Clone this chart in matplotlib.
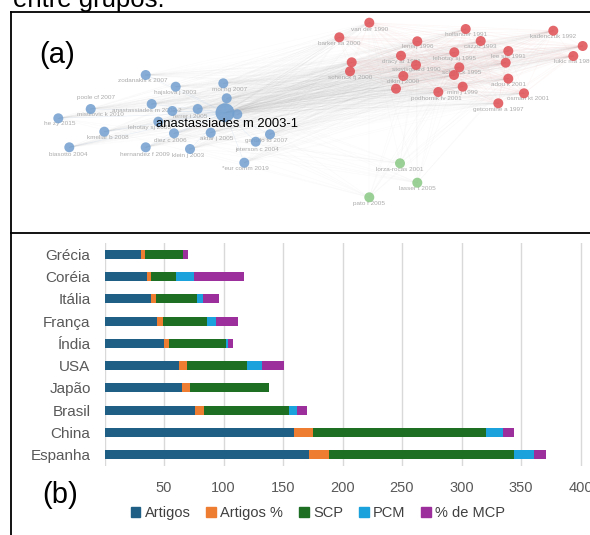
import itertools
import numpy as np
import matplotlib
matplotlib.use("Agg")
import matplotlib.pyplot as plt
from matplotlib.lines import Line2D
from matplotlib.patches import Patch

plt.rcParams["font.family"] = ["Liberation Sans", "DejaVu Sans"]

W, H = 590, 535

# ---------------- (b) stacked bars ----------------
countries = ["Espanha", "China", "Brasil", "Japão", "USA", "Índia", "França", "Itália", "Coréia", "Grécia"]
artigos = [172, 159, 76, 65, 63, 50, 44, 39, 36, 31]
artigos_pct = [17, 16, 8, 7, 6, 4, 5, 4, 3, 3]
scp = [155, 146, 71, 66, 51, 48, 37, 35, 21, 32]
pcm = [17, 14, 7, 0, 12, 2, 8, 5, 15, 0]
mcp = [10, 9, 8, 0, 19, 4, 18, 13, 42, 4]
series_names = ["Artigos", "Artigos %", "SCP", "PCM", "% de MCP"]
series_colors = ["#1f5f85", "#ee7d31", "#1e6e24", "#1ba1db", "#9d2f9c"]
xticks = [50, 100, 150, 200, 250, 300, 350, 400]

# ---------------- (a) co-citation network (pixel positions) ----------------
blue_x = [145.7, 175.7, 223.3, 226.7, 90.7, 151.7, 172.3, 197.7, 237.3, 58.3, 158.3, 104.3,
          174.0, 210.7, 270.0, 255.7, 69.3, 145.7, 190.0, 244.3]
blue_y = [75.0, 86.7, 83.3, 98.3, 109.0, 104.0, 111.0, 109.0, 114.3, 118.3, 121.7, 131.7,
          133.3, 132.7, 134.3, 141.7, 147.3, 147.3, 149.0, 162.7]
hub_xy = (225.0, 112.7)

red_x = [369.3, 339.3, 465.7, 553.3, 582.7, 573.3, 417.3, 480.7, 508.3, 454.3, 401.0, 351.7,
         416.0, 505.7, 350.0, 459.3, 454.0, 403.3, 508.3, 396.0, 462.7, 438.3, 524.0, 498.3]
red_y = [22.7, 37.3, 29.0, 30.7, 46.0, 56.0, 41.3, 41.0, 51.0, 52.3, 55.7, 62.3,
         65.0, 62.7, 71.3, 67.3, 75.0, 76.0, 78.7, 88.7, 86.7, 92.0, 93.3, 103.3]

green_x = [400.0, 417.3, 369.3]
green_y = [163.3, 182.7, 197.3]

node_labels = [
    ("zodanakis k 2007", 143, 81), ("hajslova j 2003", 175, 92.7), ("mol hg 2007", 230, 89),
    ("poole cf 2007", 96, 97.7), ("mistilovic k 2010", 100, 114),
    ("anastassiades m 2003-2", 146.7, 110), ("ferrer i 2005", 190, 117),
    ("he zy 2015", 60, 124), ("lehotay sj 2005", 150, 127.7), ("kmellar b 2008", 108, 137.7),
    ("diez c 2006", 170, 140), ("aktar j 2005", 216.7, 138.3), ("garrido fd 2007", 266.7, 140.7),
    ("jeterson c 2004", 256.7, 149.3), ("biasotto 2004", 68.3, 154.3),
    ("hernandez f 2009", 145, 154.3), ("klein j 2003", 188.3, 155.3),
    ("*eur comm 2019", 245, 169),
    ("van der 1990", 369.3, 29.3), ("barker sa 2000", 339.3, 43.3), ("hollander 1991", 465.7, 34.3),
    ("kadenczuk 1992", 553.3, 36.7), ("lukic ma 1989", 573.3, 61.7), ("lenerj 1996", 417.3, 46.7),
    ("cazzu 1993", 480.7, 46.7), ("lee sm 1991", 508.3, 56.7), ("lehotay sj 1995", 454.3, 58.3),
    ("dracy ar 1991", 401, 61.7), ("stoyjsgaard 1990", 416, 70), ("schenck fj 2000", 350, 77.7),
    ("schenck 1995", 462, 73), ("dikin j 2000", 403.3, 81.7), ("adou k 2001", 508.3, 84.3),
    ("mini j 1999", 462.7, 92.3), ("podhornik fv 2001", 436.7, 98.3),
    ("osman kt 2001", 528.3, 99), ("getcomine a 1997", 498.3, 109),
    ("lorza-rocas 2001", 400, 169.3), ("lasser t 2005", 417.3, 188.7), ("pato f 2005", 369.3, 203.3),
]


def px_box(x0, y0, x1, y1):
    return [x0 / W, 1 - y1 / H, (x1 - x0) / W, (y1 - y0) / H]


def s_px(d):
    # scatter size for a marker of d pixels at dpi 100
    return (d * 0.72) ** 2


fig = plt.figure(figsize=(W / 100, H / 100), dpi=100)

# caption text cut at the top of the picture
fig.text(13 / W, 1 - 7 / H, "entre grupos.", fontsize=18.5, va="baseline", color="black")

# ---- network panel
ax_n = fig.add_axes(px_box(11, 12, 590, 233))
ax_n.set_xlim(11, 590)
ax_n.set_ylim(233, 12)
ax_n.set_xticks([])
ax_n.set_yticks([])
for side in ["left", "top", "bottom"]:
    ax_n.spines[side].set_linewidth(1.3)
ax_n.spines["right"].set_visible(False)

bx, by = np.array(blue_x), np.array(blue_y)
rx, ry = np.array(red_x), np.array(red_y)
gx, gy = np.array(green_x), np.array(green_y)

# faint links between clusters
for i in range(len(bx)):
    for j in range(len(rx)):
        ax_n.plot([bx[i], rx[j]], [by[i], ry[j]], color="#b0b0b0", lw=0.35, alpha=0.05, zorder=1)
for j in range(len(rx)):
    ax_n.plot([hub_xy[0], rx[j]], [hub_xy[1], ry[j]], color="#999999", lw=0.5, alpha=0.14, zorder=1)
for k in range(len(gx)):
    for i in range(0, len(bx), 3):
        ax_n.plot([gx[k], bx[i]], [gy[k], by[i]], color="#b5b5b5", lw=0.35, alpha=0.08, zorder=1)
    for j in range(0, len(rx), 3):
        ax_n.plot([gx[k], rx[j]], [gy[k], ry[j]], color="#b5b5b5", lw=0.35, alpha=0.08, zorder=1)
# links inside clusters
for i, j in itertools.combinations(range(len(rx)), 2):
    ax_n.plot([rx[i], rx[j]], [ry[i], ry[j]], color="#ee9a9a", lw=0.4, alpha=0.08, zorder=1)
for i in range(len(bx)):
    ax_n.plot([hub_xy[0], bx[i]], [hub_xy[1], by[i]], color="#b5cde8", lw=0.4, alpha=0.3, zorder=1)

for txt, x, y in node_labels:
    ax_n.text(x, y, txt, fontsize=4.6, color="#ababab", ha="center", va="center", zorder=2)

ax_n.scatter(bx, by, s=s_px(10), color="#729fcf", alpha=0.85, edgecolors="none", zorder=3)
ax_n.scatter([hub_xy[0]], [hub_xy[1]], s=s_px(19), color="#729fcf", alpha=0.9, edgecolors="none", zorder=3)
ax_n.scatter(rx, ry, s=s_px(10), color="#e0575c", alpha=0.9, edgecolors="none", zorder=3)
ax_n.scatter(gx, gy, s=s_px(10), color="#8fca8a", alpha=0.9, edgecolors="none", zorder=3)

ax_n.text(226.7, 124, "anastassiades m 2003-1", fontsize=9.4, color="black", ha="center", va="center", zorder=4)
fig.text(57 / W, 1 - 55 / H, "(a)", fontsize=21, ha="center", va="center")

# left border of the lower cell
fig.add_artist(Line2D([11 / W, 11 / W], [0, 1 - 233 / H], color="black", lw=1.3))

# ---- bar panel
ax = fig.add_axes(px_box(104.5, 243, 590, 466))
ypos = np.arange(len(countries))
left = np.zeros(len(countries))
for vals, name, col in zip([artigos, artigos_pct, scp, pcm, mcp], series_names, series_colors):
    ax.barh(ypos, vals, left=left, height=0.4, color=col, label=name, zorder=3)
    left += np.array(vals)

ax.set_xlim(0, (590 - 104.5) / 1.19)
ax.set_ylim(-0.5, len(countries) - 0.5)
ax.set_xticks(xticks)
ax.set_yticks(ypos)
ax.set_yticklabels(countries)
ax.grid(axis="x", color="#d9d9d9", lw=1, zorder=0)
ax.axvline(0, color="#d9d9d9", lw=1, zorder=0)
for sp in ax.spines.values():
    sp.set_visible(False)
ax.tick_params(axis="both", length=0, labelsize=10.5, labelcolor="#595959")
ax.tick_params(axis="y", labelsize=11, pad=10)
ax.tick_params(axis="x", pad=11)

handles = [Patch(color=c, label=n) for n, c in zip(series_names, series_colors)]
leg = fig.legend(handles=handles, loc="center", bbox_to_anchor=(318 / W, 1 - 513 / H), ncol=5,
                 frameon=False, fontsize=10.5, handlelength=0.65, handleheight=0.65,
                 handletextpad=0.3, columnspacing=1.1)
for t in leg.get_texts():
    t.set_color("#404040")

fig.text(60 / W, 1 - 495 / H, "(b)", fontsize=21, ha="center", va="center")

fig.savefig("out.png", dpi=100)
